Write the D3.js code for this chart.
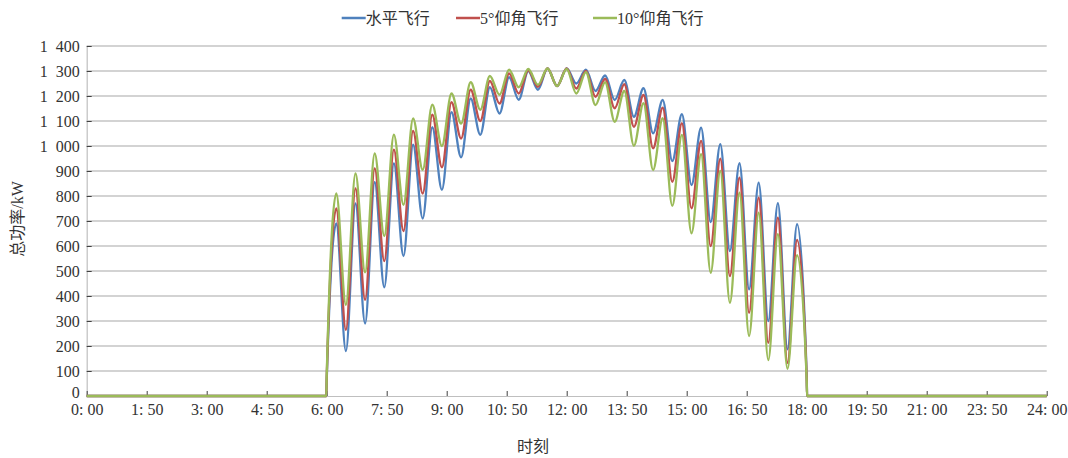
<!DOCTYPE html>
<html>
<head>
<meta charset="utf-8">
<script src="https://cdn.jsdelivr.net/npm/d3@7/dist/d3.min.js"></script>
<style>
  html, body { margin: 0; padding: 0; background: #fff; }
  svg { display: block; }
  .axis text { font-family: "Liberation Serif", "Noto Sans CJK SC", serif; font-size: 16px; fill: #333; }
  .cjk { font-family: "Liberation Serif", "Noto Sans CJK SC", serif; font-size: 16px; fill: #333; }
</style>
</head>
<body>
<svg id="chart" width="1068" height="458"></svg>
<script>
// Time of day in hours for each sample (flat zero outside 6:00–18:00)
const hours = [
  0, 5.99,
  6.00, 6.24, 6.48, 6.72, 6.96, 7.20, 7.44, 7.68, 7.92, 8.16, 8.40, 8.64, 8.88,
  9.12, 9.36, 9.60, 9.84, 10.08, 10.32, 10.56, 10.80, 11.04, 11.28, 11.52, 11.76,
  12.00, 12.24, 12.48, 12.72, 12.96, 13.20, 13.44, 13.68, 13.92, 14.16, 14.40, 14.64,
  14.88, 15.12, 15.36, 15.60, 15.84, 16.08, 16.32, 16.56, 16.80, 17.04, 17.28, 17.52,
  17.76, 18.00,
  18.01, 24
];

// Total power (kW), level flight
const levelFlight = [
  0, 0,
  60, 690, 180, 770, 290, 855, 435, 930, 560, 1005, 710, 1075, 825,
  1135, 955, 1190, 1045, 1235, 1130, 1275, 1185, 1300, 1225, 1310, 1240,
  1310, 1250, 1305, 1220, 1282, 1184, 1264, 1117, 1231, 1051, 1184, 940,
  1127, 844, 1073, 696, 1007, 580, 931, 427, 853, 300, 771, 187,
  687, 80,
  0, 0
];

// Total power (kW), 5° pitch
const pitch5 = [
  0, 0,
  70, 750, 265, 830, 385, 910, 540, 985, 660, 1060, 810, 1125, 915,
  1175, 1030, 1225, 1100, 1260, 1170, 1290, 1210, 1303, 1237, 1310, 1240,
  1310, 1230, 1300, 1197, 1268, 1151, 1247, 1077, 1204, 991, 1153, 857,
  1091, 751, 1020, 600, 949, 480, 873, 333, 793, 213, 713, 133,
  624, 70,
  0, 0
];

// Total power (kW), 10° pitch
const pitch10 = [
  0, 0,
  80, 810, 365, 890, 495, 970, 640, 1045, 765, 1110, 905, 1165, 1000,
  1210, 1090, 1255, 1145, 1280, 1205, 1305, 1235, 1308, 1245, 1310, 1240,
  1308, 1210, 1295, 1164, 1255, 1097, 1220, 1001, 1171, 904, 1111, 761,
  1044, 651, 967, 493, 900, 373, 813, 240, 733, 144, 647, 109,
  563, 60,
  0, 0
];

const seriesNames = ["水平飞行", "5°仰角飞行", "10°仰角飞行"];
const seriesColors = ["#4F81BD", "#C0504D", "#9BBB59"];

const xTickHours = [0, 1.5, 3, 4.5, 6, 7.5, 9, 10.5, 12, 13.5, 15, 16.5, 18, 19.5, 21, 22.5, 24];
const xTickLabels = ["0: 00", "1: 50", "3: 00", "4: 50", "6: 00", "7: 50", "9: 00", "10: 50",
  "12: 00", "13: 50", "15: 00", "16: 50", "18: 00", "19: 50", "21: 00", "23: 50", "24: 00"];
const yTicks = [0, 100, 200, 300, 400, 500, 600, 700, 800, 900, 1000, 1100, 1200, 1300, 1400];
const yTickLabels = ["0", "100", "200", "300", "400", "500", "600", "700", "800", "900",
  "1\u2002000", "1\u2002100", "1\u2002200", "1\u2002300", "1\u2002400"];

const svg = d3.select("#chart");
const plotLeft = 86.7, plotRight = 1046.7, plotTop = 46, plotBottom = 396;

const x = d3.scaleLinear().domain([0, 24]).range([plotLeft, plotRight]);
const y = d3.scaleLinear().domain([0, 1400]).range([plotBottom, plotTop]);

// horizontal gridlines
svg.append("g")
  .selectAll("line")
  .data(yTicks.filter(v => v > 0))
  .join("line")
  .attr("x1", plotLeft).attr("x2", plotRight)
  .attr("y1", d => y(d)).attr("y2", d => y(d))
  .attr("stroke", "#c4c4c4")
  .attr("stroke-width", 1.4);

// y axis
const yAxis = svg.append("g")
  .attr("class", "axis")
  .attr("transform", `translate(${plotLeft},0)`)
  .call(d3.axisLeft(y).tickValues(yTicks)
    .tickFormat((d, i) => yTickLabels[i])
    .tickSizeInner(-5).tickSizeOuter(0).tickPadding(7));
yAxis.select(".domain").attr("stroke", "#bfbfbf").attr("stroke-width", 1.2);
yAxis.selectAll(".tick line").attr("stroke", "#404040");
// lift the zero label slightly so it clears the first time label
yAxis.selectAll(".tick").filter(d => d === 0).select("text").attr("y", -4);

// x axis
const xAxis = svg.append("g")
  .attr("class", "axis")
  .attr("transform", `translate(0,${plotBottom})`)
  .call(d3.axisBottom(x).tickValues(xTickHours)
    .tickFormat((d, i) => xTickLabels[i])
    .tickSizeInner(-5).tickSizeOuter(0).tickPadding(8));
xAxis.select(".domain").attr("stroke", "#bfbfbf").attr("stroke-width", 1.2);
xAxis.selectAll(".tick line").attr("stroke", "#404040");

// power curves
const line = d3.line()
  .x((d, i) => x(hours[i]))
  .y(d => y(d))
  .curve(d3.curveMonotoneX);

[levelFlight, pitch5, pitch10].forEach((vals, k) => {
  svg.append("path")
    .datum(vals)
    .attr("d", line)
    .attr("fill", "none")
    .attr("stroke", seriesColors[k])
    .attr("stroke-width", 2.3)
    .attr("stroke-linejoin", "round");
});

// legend
const legendX = [341.7, 456, 593];
const legend = svg.append("g");
seriesNames.forEach((name, k) => {
  legend.append("line")
    .attr("x1", legendX[k]).attr("x2", legendX[k] + 24)
    .attr("y1", 18).attr("y2", 18)
    .attr("stroke", seriesColors[k]).attr("stroke-width", 2.5);
  legend.append("text")
    .attr("class", "cjk")
    .attr("x", legendX[k] + 24).attr("y", 24)
    .text(name);
});

// axis titles
svg.append("text")
  .attr("class", "cjk")
  .attr("transform", "translate(23,219) rotate(-90)")
  .attr("text-anchor", "middle")
  .text("总功率/kW");

svg.append("text")
  .attr("class", "cjk")
  .attr("x", 533).attr("y", 452)
  .attr("text-anchor", "middle")
  .text("时刻");
</script>
</body>
</html>
